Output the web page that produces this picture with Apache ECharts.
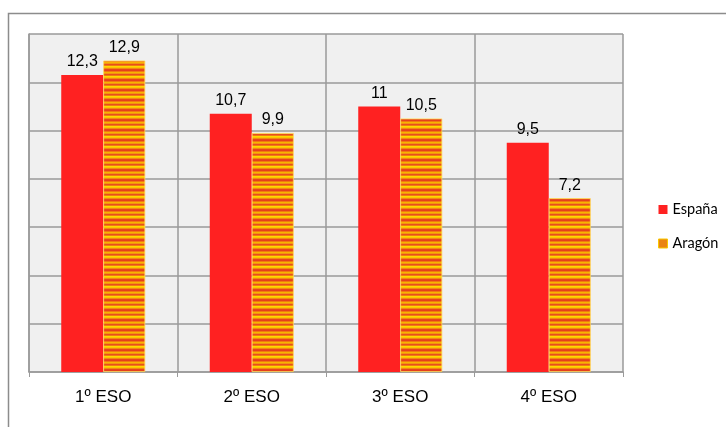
<!DOCTYPE html>
<html><head><meta charset="utf-8">
<script src="https://cdn.jsdelivr.net/npm/echarts@6/dist/echarts.min.js"></script>
<style>html,body{margin:0;padding:0;background:#fff}#c{width:726px;height:427px}</style>
</head><body><div id="c"></div>
<script>
const categories = ['1º ESO', '2º ESO', '3º ESO', '4º ESO'];
const espana = [12.3, 10.7, 11, 9.5];
const aragon = [12.9, 9.9, 10.5, 7.2];
const seriesNames = ['España', 'Aragón'];

function stripes() {
  const c = document.createElement('canvas');
  c.width = 4; c.height = 10;
  const ctx = c.getContext('2d');
  const rows = ['#e5401c', '#f07a12', '#f9b400', '#f39410', '#e8501a', '#f07a12', '#ffd800', '#fbc400', '#f08a12', '#e8461c'];
  rows.forEach((col, i) => { ctx.fillStyle = col; ctx.fillRect(0, i, 4, 1); });
  return c;
}

const fmt = p => String(p.value).replace('.', ',');
const chart = echarts.init(document.getElementById('c'), null, {renderer: 'canvas'});
chart.setOption({
  animation: false,
  backgroundColor: '#fff',
  graphic: [{
    type: 'rect', left: 6, top: 11, silent: true, z: -10,
    shape: {x: 0, y: 0, width: 740, height: 440},
    style: {fill: 'none', stroke: '#8c8c8c', lineWidth: 1.5}
  }],
  grid: {left: 29, top: 34, right: 103, bottom: 55, show: true, backgroundColor: '#f0f0f0', borderWidth: 0},
  legend: {
    orient: 'vertical', left: 653, top: 197, itemWidth: 9, itemHeight: 9, itemGap: 19,
    icon: 'rect',
    textStyle: {fontFamily: 'Lato', fontSize: 14.5, color: '#000'},
    data: [
      {name: seriesNames[0], itemStyle: {color: '#ff2121'}},
      {name: seriesNames[1], itemStyle: {color: '#ea8413', borderColor: '#f9c800', borderWidth: 1}}
    ]
  },
  xAxis: {
    type: 'category', data: categories,
    axisLine: {lineStyle: {color: '#9a9a9a', width: 1.5}},
    axisTick: {show: true, length: 5, lineStyle: {color: '#9a9a9a'}},
    splitLine: {show: true, lineStyle: {color: '#9a9a9a', width: 1.5}},
    axisLabel: {margin: 17, fontFamily: 'Liberation Sans', fontSize: 17, color: '#000'}
  },
  yAxis: {
    type: 'value', min: 0, max: 14, interval: 2,
    axisLine: {show: true, lineStyle: {color: '#9a9a9a', width: 1.5}},
    axisTick: {show: false},
    axisLabel: {show: false},
    splitLine: {show: true, lineStyle: {color: '#9a9a9a', width: 1.5}}
  },
  series: [
    {
      name: seriesNames[0], type: 'bar', data: espana,
      barWidth: 42, barGap: '0%',
      itemStyle: {color: '#ff2121'},
      label: {show: true, position: 'top', distance: 5, formatter: fmt, fontFamily: 'Liberation Sans', fontSize: 16, color: '#000'}
    },
    {
      name: seriesNames[1], type: 'bar', data: aragon,
      barWidth: 42,
      itemStyle: {color: {image: stripes(), repeat: 'repeat'}, borderColor: '#ffd75a', borderWidth: 0.8},
      label: {show: true, position: 'top', distance: 5, formatter: fmt, fontFamily: 'Liberation Sans', fontSize: 16, color: '#000'}
    }
  ]
});
</script></body></html>
